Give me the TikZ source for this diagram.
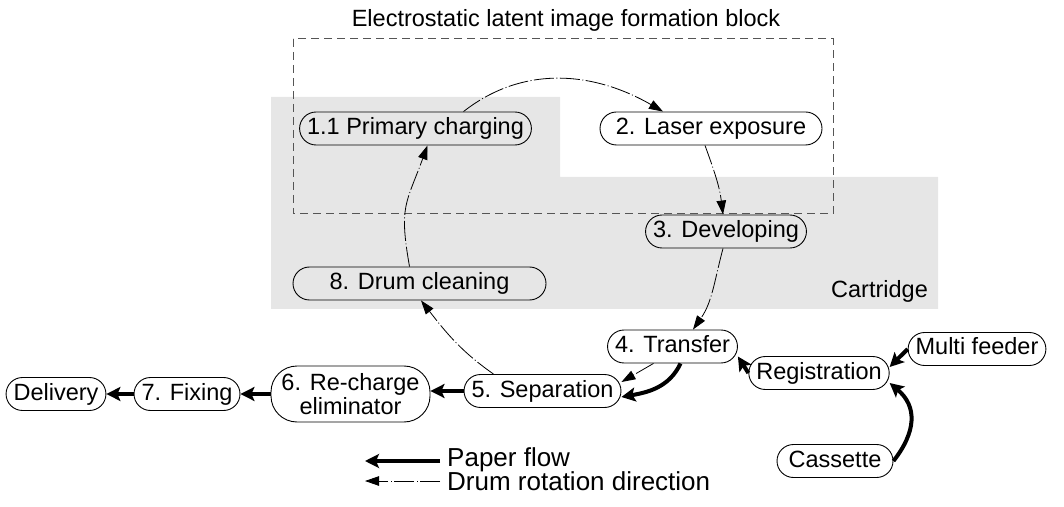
\documentclass[tikz,border=0pt]{standalone}
\usepackage{fontspec}
\setmainfont{Liberation Sans}
\usetikzlibrary{arrows.meta}
\definecolor{cartgray}{HTML}{E6E6E6}
\definecolor{blockgray}{HTML}{555555}

\begin{document}
\begin{tikzpicture}[
  x=1pt, y=1pt,
  font=\fontsize{23.5}{24}\selectfont,
  stagebox/.style={draw, line width=0.9pt, rounded corners=16.5pt, inner xsep=7.5pt},
  stage/.style={stagebox, inner ysep=5.5pt, text height=17pt, text depth=5pt},
  paper/.style={line width=4pt, -{Stealth[length=14pt,width=14pt,inset=3pt]}},
  drum/.style={line width=0.8pt, dash pattern=on 20pt off 2.5pt on 1pt off 2.5pt, -{Triangle[length=14pt,width=9.5pt]}},
  block/.style={draw=blockgray, line width=1pt, dash pattern=on 8pt off 5pt},
  legend/.style={anchor=base west, inner sep=0pt, font=\fontsize{26}{26}\selectfont}
]
\useasboundingbox (0,0) rectangle (1064,506);

% cartridge area and latent image block
\fill[cartgray] (271,409) -- (560,409) -- (560,329) -- (938,329) -- (938,197) -- (271,197) -- cycle;
\draw[block] (293,467) rectangle (833,292);
\node[anchor=base] (title) at (566,479) {Electrostatic latent image formation block};
\node[anchor=base west, inner sep=0pt] (cart) at (831,208) {Cartridge};

% process stages
\node[stage] (prim) at (415.5,377.5) {1.1 Primary charging};
\node[stage, minimum width=222pt] (laser) at (711,377.5) {2. Laser exposure};
\node[stage] (devel) at (726,274.5) {3. Developing};
\node[stage, minimum width=253pt] (clean) at (419.5,222.5) {8. Drum cleaning};
\node[stage] (trans) at (672.5,159.5) {4. Transfer};
\node[stage] (separ) at (542.5,115) {5. Separation};
\node[stagebox, rounded corners=26pt, align=center, inner ysep=3pt, minimum width=159pt, minimum height=56pt] (rechg) at (350.5,112) {6. Re-charge\\eliminator};
\node[stage] (fixing) at (187,112) {7. Fixing};
\node[stage] (deliv) at (56,112) {Delivery};
\node[stage] (regist) at (819,133) {Registration};
\node[stage] (multi) at (977,157) {Multi feeder};
\node[stage, minimum width=116pt] (cass) at (835,45) {Cassette};

% drum rotation
\draw[drum] ([xshift=48pt]prim.north) to[out=38,in=150] ([xshift=-48pt]laser.north);
\draw[drum] ([xshift=-6pt]laser.south) to[out=-70,in=97] ([xshift=-3pt]devel.north);
\draw[drum] ([xshift=-3pt]devel.south) to[out=-105,in=55] ([xshift=20.5pt]trans.north);
\draw[drum] ([xshift=-19pt]trans.south) -- ([yshift=9pt]separ.east);
\draw[drum] ([xshift=-49pt]separ.north) to[out=145,in=-52] ([xshift=1.5pt]clean.south);
\draw[drum] ([xshift=-10pt]clean.north) to[out=100,in=-110,looseness=1.3] ([xshift=12pt]prim.south);

% paper flow
\draw[paper] (cass.east) to[out=52,in=-40,looseness=1.2] ([yshift=-10pt]regist.east);
\draw[paper] (multi.west) -- ([yshift=6pt]regist.east);
\draw[paper] (regist.west) -- ([yshift=-10pt]trans.east);
\draw[paper] ([xshift=8pt]trans.south) to[out=-115,in=10] ([yshift=-6pt]separ.east);
\draw[paper] (separ.west) -- (separ.west -| rechg.east);
\draw[paper] (rechg.west) -- (fixing.east);
\draw[paper] (fixing.west) -- (deliv.east);

% legend
\node[legend] (lpaper) at (447,40) {Paper flow};
\node[legend] (ldrum) at (447,16) {Drum rotation direction};
\coordinate (ptail) at (440,45);
\coordinate (phead) at (365,45);
\coordinate (dtail) at (440,25);
\coordinate (dhead) at (365,25);
\draw[paper] (ptail) -- (phead);
\draw[drum] (dtail) -- (dhead);
\end{tikzpicture}
\end{document}
